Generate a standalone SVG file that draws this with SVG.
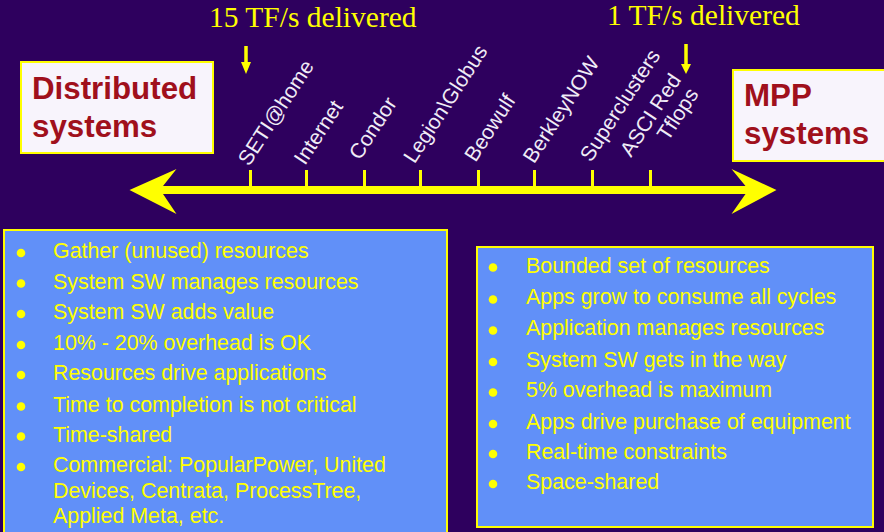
<svg xmlns="http://www.w3.org/2000/svg" width="884" height="532" viewBox="0 0 884 532">
  <style>
    .title { font-family: "Liberation Serif", "Times New Roman", serif; font-size: 29.5px; fill: #FFFF00; }
    .sys { font-family: "Liberation Sans", Arial, sans-serif; font-size: 31.3px; font-weight: bold; fill: #A0101C; }
    .sysbox { fill: #F8F4FC; stroke: #FFFF00; stroke-width: 2; }
    .tag { font-family: "Liberation Sans", Arial, sans-serif; font-size: 21px; fill: #F0ECF6; }
    .panel { fill: #6190F8; stroke: #FFFF00; stroke-width: 2; }
    .item { font-family: "Liberation Sans", Arial, sans-serif; font-size: 21.4px; fill: #FFFF00; }
    .dot { fill: #FFFF00; }
    .tick { stroke: #FFFF00; stroke-width: 3; }
    .ptr { stroke: #FFFF00; stroke-width: 3.5; }
    .ptrhead { fill: #FFFF00; }
  </style>

  <!-- background -->
  <rect x="0" y="0" width="884" height="532" fill="#2E005E"/>

  <!-- headings over the scale -->
  <text class="title" x="209" y="27">15 TF/s delivered</text>
  <text class="title" x="607" y="25">1 TF/s delivered</text>

  <!-- end-point boxes -->
  <g id="distributed">
    <rect class="sysbox" x="21" y="62" width="192" height="91"/>
    <text class="sys" x="32" y="99">Distributed</text>
    <text class="sys" x="32" y="137">systems</text>
  </g>
  <g id="mpp">
    <rect class="sysbox" x="733" y="70" width="160" height="91"/>
    <text class="sys" x="744" y="106">MPP</text>
    <text class="sys" x="744" y="144">systems</text>
  </g>

  <!-- double-headed scale with ticks and pointers -->
  <g id="connectors">
    <path d="M129.5,190 L176.5,169 L163,186 L745.5,186 L731.5,169 L776.5,190 L731.5,214 L745.5,194 L163,194 L176.5,214 Z" fill="#FFFF00"/>
    <line class="tick" x1="250.5" y1="170" x2="250.5" y2="186"/>
    <line class="tick" x1="306.5" y1="170" x2="306.5" y2="186"/>
    <line class="tick" x1="364.5" y1="170" x2="364.5" y2="186"/>
    <line class="tick" x1="420.5" y1="170" x2="420.5" y2="186"/>
    <line class="tick" x1="478.5" y1="170" x2="478.5" y2="186"/>
    <line class="tick" x1="534.5" y1="170" x2="534.5" y2="186"/>
    <line class="tick" x1="592.5" y1="170" x2="592.5" y2="186"/>
    <line class="tick" x1="650.5" y1="170" x2="650.5" y2="186"/>
    <line class="ptr" x1="246" y1="46" x2="246" y2="63"/>
    <polygon class="ptrhead" points="241,62 251,62 246,74"/>
    <line class="ptr" x1="686" y1="44" x2="686" y2="65"/>
    <polygon class="ptrhead" points="681,64 691,64 686,74"/>
  </g>

  <!-- system names along the scale -->
  <g id="tags">
    <text class="tag" transform="translate(249,167) rotate(-57)">SETI@home</text>
    <text class="tag" transform="translate(305,166) rotate(-57)">Internet</text>
    <text class="tag" transform="translate(360,161) rotate(-57)">Condor</text>
    <text class="tag" transform="translate(414.5,164.5) rotate(-57)">Legion\Globus</text>
    <text class="tag" transform="translate(475.5,163) rotate(-57)">Beowulf</text>
    <text class="tag" transform="translate(534,164.5) rotate(-57)">BerkleyNOW</text>
    <text class="tag" transform="translate(591,163) rotate(-57)">Superclusters</text>
    <text class="tag" transform="translate(631,158) rotate(-57)">ASCI Red</text>
    <text class="tag" transform="translate(668,142) rotate(-57)">Tflops</text>
  </g>

  <!-- distributed-system traits -->
  <g id="left-panel">
    <rect class="panel" x="4" y="230" width="443" height="320"/>
    <g class="dot">
      <circle cx="21" cy="253" r="4.3"/>
      <circle cx="21" cy="283.5" r="4.3"/>
      <circle cx="21" cy="314" r="4.3"/>
      <circle cx="21" cy="345" r="4.3"/>
      <circle cx="21" cy="375" r="4.3"/>
      <circle cx="21" cy="406.5" r="4.3"/>
      <circle cx="21" cy="436.5" r="4.3"/>
      <circle cx="21" cy="467" r="4.3"/>
    </g>
    <text class="item" x="53" y="258">Gather (unused) resources</text>
    <text class="item" x="53" y="288.5">System SW manages resources</text>
    <text class="item" x="53" y="319">System SW adds value</text>
    <text class="item" x="53" y="350">10% - 20% overhead is OK</text>
    <text class="item" x="53" y="380">Resources drive applications</text>
    <text class="item" x="53" y="411.5">Time to completion is not critical</text>
    <text class="item" x="53" y="441.5">Time-shared</text>
    <text class="item" x="53" y="472">Commercial: PopularPower, United</text>
    <text class="item" x="53" y="497.5">Devices, Centrata, ProcessTree,</text>
    <text class="item" x="53" y="523">Applied Meta, etc.</text>
  </g>

  <!-- MPP traits -->
  <g id="right-panel">
    <rect class="panel" x="477" y="247" width="396" height="280"/>
    <g class="dot">
      <circle cx="493" cy="267.5" r="4.3"/>
      <circle cx="493" cy="299.5" r="4.3"/>
      <circle cx="493" cy="330.5" r="4.3"/>
      <circle cx="493" cy="362" r="4.3"/>
      <circle cx="493" cy="392.5" r="4.3"/>
      <circle cx="493" cy="424" r="4.3"/>
      <circle cx="493" cy="454" r="4.3"/>
      <circle cx="493" cy="484" r="4.3"/>
    </g>
    <text class="item" x="526" y="272.5">Bounded set of resources</text>
    <text class="item" x="526" y="304">Apps grow to consume all cycles</text>
    <text class="item" x="526" y="335">Application manages resources</text>
    <text class="item" x="526" y="366.5">System SW gets in the way</text>
    <text class="item" x="526" y="397">5% overhead is maximum</text>
    <text class="item" x="526" y="428.5">Apps drive purchase of equipment</text>
    <text class="item" x="526" y="459">Real-time constraints</text>
    <text class="item" x="526" y="489">Space-shared</text>
  </g>
</svg>
